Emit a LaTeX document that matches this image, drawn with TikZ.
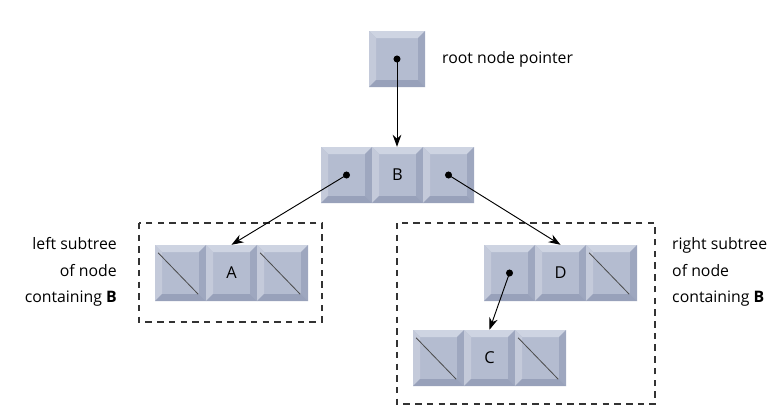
\documentclass[tikz,border=0pt]{standalone}
\usepackage{fontspec}
\setmainfont{Open Sans}
\usetikzlibrary{arrows.meta}

\definecolor{cellface}{RGB}{180,188,208}
\definecolor{celltop}{RGB}{206,212,226}
\definecolor{cellleft}{RGB}{196,202,218}
\definecolor{cellright}{RGB}{158,167,191}
\definecolor{cellbottom}{RGB}{152,161,186}

\tikzset{
  ptr/.style={-{Stealth[length=3.6mm,width=2.6mm]}, line width=0.8pt},
  subtree/.style={draw=black!80, line width=0.9pt, dash pattern=on 5.5pt off 4.5pt},
  nullbar/.style={draw=black!70, line width=0.7pt},
  cellnode/.style={inner sep=0pt, minimum height=1.68cm, font=\fontsize{14}{16}\selectfont},
  note/.style={inner sep=0pt, font=\fontsize{13.5}{22.5}\selectfont}
}

% one bevelled cell: name, left x, top y, width, text
\newcommand{\bevcell}[5]{%
  \fill[cellface] (#2,#3) rectangle ++(#4,56);
  \fill[celltop] (#2,#3) -- ++(#4,0) -- ++(-7,7) -- ++({-(#4-14)},0) -- cycle;
  \fill[cellleft] (#2,#3) -- ++(7,7) -- ++(0,42) -- ++(-7,7) -- cycle;
  \fill[cellright] ({#2+#4},#3) -- ++(0,56) -- ++(-7,-7) -- ++(0,-42) -- cycle;
  \fill[cellbottom] (#2,{#3+56}) -- ++(#4,0) -- ++(-7,-7) -- ++({-(#4-14)},0) -- cycle;
  \node[cellnode, minimum width={#4*0.03cm}] (#1) at ({#2+#4/2},{#3+28}) {#5};
}
\newcommand{\nullcell}[1]{%
  \draw[nullbar] ([xshift=0.1cm,yshift=-0.24cm]#1.north west) -- ([xshift=-0.24cm,yshift=0.21cm]#1.south east);
}
\newcommand{\ptrdot}[1]{\fill (#1.center) circle[radius=3pt];}

\begin{document}
\begin{tikzpicture}[x=0.03cm,y=-0.03cm]
\useasboundingbox (0,0) rectangle (778,420);

% subtrees
\draw[subtree] (139,223) rectangle (322,322);
\draw[subtree] (397,223) rectangle (655,404);

% root pointer
\bevcell{root}{369}{31}{56}{}
\node[note, anchor=west] (rootlabel) at (442,59) {root node pointer};

% node B
\bevcell{Bl}{321}{147}{51}{}
\bevcell{Bm}{372}{147}{51}{B}
\bevcell{Br}{423}{147}{51}{}

% node A
\bevcell{Al}{155}{245}{51}{}
\bevcell{Am}{206}{245}{51}{A}
\bevcell{Ar}{257}{245}{51}{}
\nullcell{Al} \nullcell{Ar}

% node D
\bevcell{Dl}{484}{245}{51}{}
\bevcell{Dm}{535}{245}{51}{D}
\bevcell{Dr}{586}{245}{51}{}
\nullcell{Dr}

% node C
\bevcell{Cl}{413}{330}{51}{}
\bevcell{Cm}{464}{330}{51}{C}
\bevcell{Cr}{515}{330}{51}{}
\nullcell{Cl} \nullcell{Cr}

% pointers
\draw[ptr] (root.center) -- (root.center |- Bm.north);
\draw[ptr] (Bl.center) -- (Am.north);
\draw[ptr] (Br.center) -- (Dm.north);
\draw[ptr] (Dl.center) -- (Cm.north);
\ptrdot{root} \ptrdot{Bl} \ptrdot{Br} \ptrdot{Dl}

% labels
\node[note, align=right, anchor=east] (leftlabel) at (117,272) {left subtree\\of node\\containing \textbf{B}};
\node[note, align=left, anchor=west] (rightlabel) at (672,272) {right subtree\\of node\\containing \textbf{B}};
\end{tikzpicture}
\end{document}
